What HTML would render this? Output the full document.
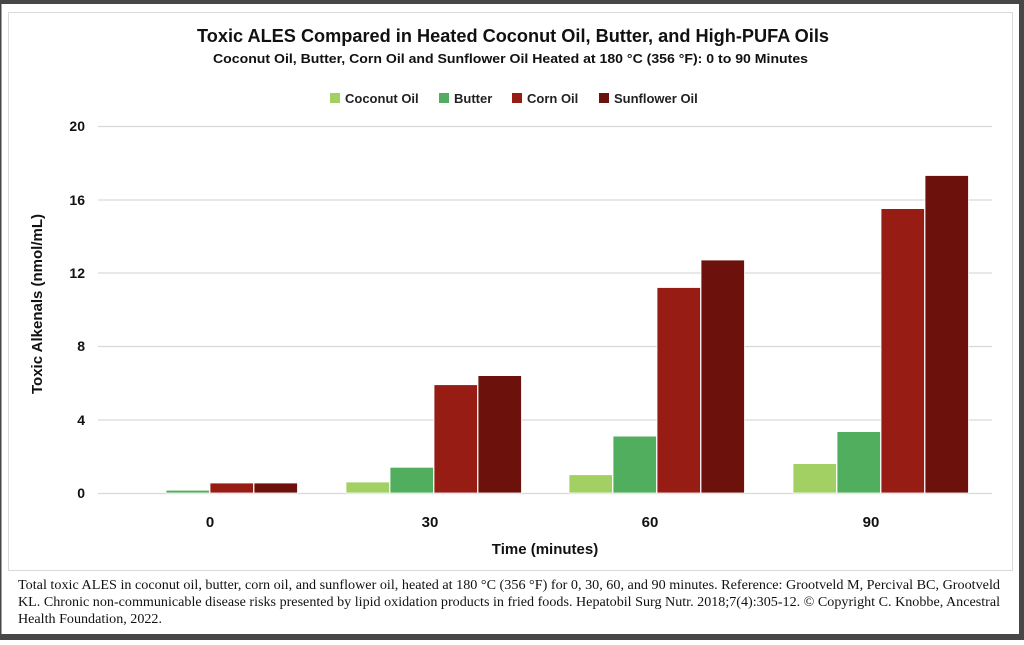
<!DOCTYPE html>
<html><head><style>
body{margin:0;width:1024px;height:640px;overflow:hidden;background:#fff;}
</style></head><body>
<svg width="1024" height="640" xmlns="http://www.w3.org/2000/svg" font-family="Liberation Sans, sans-serif">
<rect x="0" y="0" width="1024" height="640" fill="#fff"/>
<rect x="0" y="0" width="1024" height="4" fill="#474747"/>
<rect x="0" y="634" width="1024" height="6" fill="#474747"/>
<rect x="1019" y="0" width="5" height="640" fill="#474747"/>
<rect x="0" y="0" width="1.5" height="640" fill="#474747"/>
<rect x="8.5" y="12.5" width="1004" height="558" fill="none" stroke="#d9d9d9" stroke-width="1"/>
<text x="197" y="42" textLength="632" lengthAdjust="spacingAndGlyphs" font-size="18" font-weight="bold" fill="#111">Toxic ALES Compared in Heated Coconut Oil, Butter, and High-PUFA Oils</text>
<text x="213" y="63" textLength="595" lengthAdjust="spacingAndGlyphs" font-size="13" font-weight="bold" fill="#111">Coconut  Oil, Butter, Corn Oil and Sunflower Oil Heated at 180 °C (356 °F): 0 to 90 Minutes</text>
<g font-size="13" font-weight="bold" fill="#222">
<rect x="330" y="93" width="10" height="10" fill="#a2d063"/><text x="345" y="103">Coconut Oil</text>
<rect x="439" y="93" width="10" height="10" fill="#50ae5e"/><text x="454" y="103">Butter</text>
<rect x="512" y="93" width="10" height="10" fill="#961c14"/><text x="527" y="103">Corn Oil</text>
<rect x="599" y="93" width="10" height="10" fill="#6c110b"/><text x="614" y="103">Sunflower Oil</text>
</g>
<g stroke="#d9d9d9" stroke-width="1.3">
<line x1="98" x2="992" y1="126.5" y2="126.5"/>
<line x1="98" x2="992" y1="200" y2="200"/>
<line x1="98" x2="992" y1="273" y2="273"/>
<line x1="98" x2="992" y1="346.5" y2="346.5"/>
<line x1="98" x2="992" y1="420" y2="420"/>
<line x1="98" x2="992" y1="493.5" y2="493.5"/>
</g>
<g font-size="14" font-weight="bold" fill="#111" text-anchor="end">
<text x="85" y="131">20</text><text x="85" y="205">16</text><text x="85" y="278">12</text>
<text x="85" y="351">8</text><text x="85" y="425">4</text><text x="85" y="498">0</text>
</g>
<g stroke="#fff" stroke-width="0.8">
<rect x="166" y="490.2" width="43.5" height="2.8" fill="#50ae5e"/>
<rect x="210" y="483" width="43.5" height="10" fill="#961c14"/>
<rect x="254" y="483" width="43.5" height="10" fill="#6c110b"/>
<rect x="346" y="482" width="43.5" height="11" fill="#a2d063"/>
<rect x="390" y="467.3" width="43.5" height="25.7" fill="#50ae5e"/>
<rect x="434" y="384.7" width="43.5" height="108.3" fill="#961c14"/>
<rect x="478" y="375.6" width="43.5" height="117.4" fill="#6c110b"/>
<rect x="569" y="474.7" width="43.5" height="18.3" fill="#a2d063"/>
<rect x="613" y="436.1" width="43.5" height="56.9" fill="#50ae5e"/>
<rect x="657" y="287.5" width="43.5" height="205.5" fill="#961c14"/>
<rect x="701" y="260" width="43.5" height="233" fill="#6c110b"/>
<rect x="793" y="463.6" width="43.5" height="29.4" fill="#a2d063"/>
<rect x="837" y="431.6" width="43.5" height="61.4" fill="#50ae5e"/>
<rect x="881" y="208.6" width="43.5" height="284.4" fill="#961c14"/>
<rect x="925" y="175.5" width="43.5" height="317.5" fill="#6c110b"/>
</g>
<g font-size="15" font-weight="bold" fill="#111" text-anchor="middle">
<text x="210" y="527">0</text><text x="430" y="527">30</text><text x="650" y="527">60</text><text x="871" y="527">90</text>
<text x="545" y="554">Time (minutes)</text>
<text transform="translate(42,304) rotate(-90)">Toxic Alkenals (nmol/mL)</text>
</g>
<g font-family="Liberation Serif, serif" font-size="13.5" fill="#111">
<text x="18" y="589" textLength="982" lengthAdjust="spacingAndGlyphs">Total toxic ALES in coconut oil, butter, corn oil, and sunflower oil, heated at 180 °C (356 °F) for 0, 30, 60, and 90 minutes.  Reference: Grootveld M, Percival BC, Grootveld</text>
<text x="18" y="606" textLength="982" lengthAdjust="spacingAndGlyphs">KL. Chronic non-communicable disease risks presented by lipid oxidation products in fried foods. Hepatobil Surg Nutr. 2018;7(4):305-12. © Copyright C. Knobbe, Ancestral</text>
<text x="18" y="623" textLength="144" lengthAdjust="spacingAndGlyphs">Health Foundation, 2022.</text>
</g>
</svg>
</body></html>
